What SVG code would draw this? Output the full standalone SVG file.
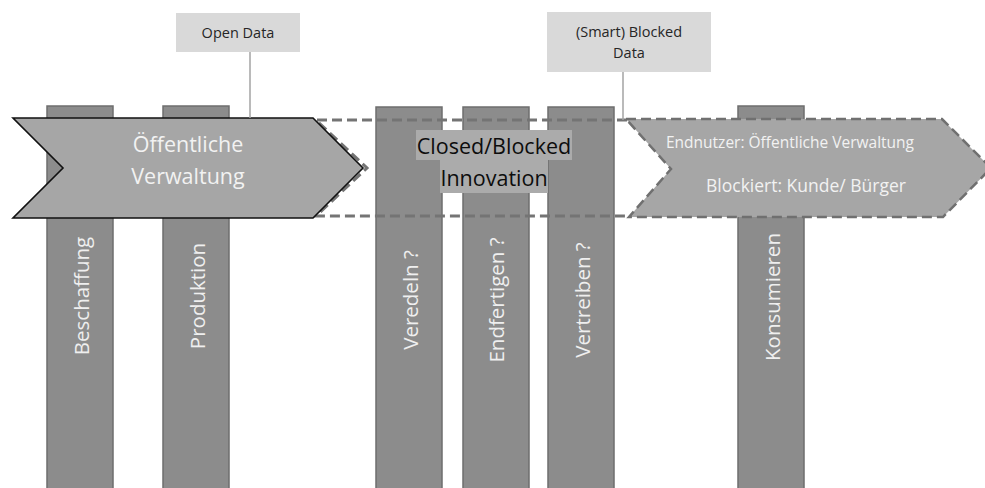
<svg xmlns="http://www.w3.org/2000/svg" width="985" height="488" viewBox="0 0 985 488">
  <style>
    .bar { fill: #8c8c8c; stroke: #6e6e6e; stroke-width: 1.5; }
    .barlabel { font-family: "Open Sans", "Liberation Sans", sans-serif; font-size: 20.5px; fill: #efefef; text-anchor: middle; }
    .chev { fill: #a6a6a6; }
    .dash { fill: none; stroke: #747474; stroke-width: 3; stroke-dasharray: 10 5; }
    .callout { fill: #d9d9d9; }
    .calltext { font-family: "Open Sans", "Liberation Sans", sans-serif; font-size: 14.5px; fill: #262626; text-anchor: middle; }
    .light { font-family: "Open Sans", "Liberation Sans", sans-serif; fill: #f2f2f2; text-anchor: middle; }
    .dark { font-family: "Open Sans", "Liberation Sans", sans-serif; font-size: 21.5px; fill: #0d0d0d; text-anchor: middle; }
    .lead { stroke: #a3a3a3; stroke-width: 1.5; fill: none; }
  </style>
  <rect width="985" height="488" fill="#ffffff"/>

  <!-- value chain steps (vertical bars) -->
  <g id="beschaffung">
    <rect class="bar" x="47" y="106" width="66" height="390"/>
    <text class="barlabel" transform="rotate(-90)" x="-296" y="89">Beschaffung</text>
  </g>
  <g id="produktion">
    <rect class="bar" x="163" y="106" width="66" height="390"/>
    <text class="barlabel" transform="rotate(-90)" x="-296" y="205">Produktion</text>
  </g>
  <g id="veredeln">
    <rect class="bar" x="376" y="107" width="66" height="390"/>
    <text class="barlabel" transform="rotate(-90)" x="-300" y="418">Veredeln ?</text>
  </g>
  <g id="endfertigen">
    <rect class="bar" x="463" y="107" width="66" height="390"/>
    <text class="barlabel" transform="rotate(-90)" x="-300" y="504">Endfertigen ?</text>
  </g>
  <g id="vertreiben">
    <rect class="bar" x="548" y="107" width="66" height="390"/>
    <text class="barlabel" transform="rotate(-90)" x="-300" y="590">Vertreiben ?</text>
  </g>
  <g id="konsumieren">
    <rect class="bar" x="738" y="106" width="66" height="390"/>
    <text class="barlabel" transform="rotate(-90)" x="-297" y="780">Konsumieren</text>
  </g>

  <!-- blocked innovation zone (dashed outline) -->
  <g id="closed-blocked-innovation">
    <path class="dash" d="M627,120 H316 L367,168 L316,216 H632"/>
    <rect x="416" y="130" width="156" height="30" fill="#ababab"/>
    <rect x="440" y="160" width="108" height="33" fill="#ababab"/>
    <text class="dark" x="494" y="154">Closed/Blocked</text>
    <text class="dark" x="494" y="186">Innovation</text>
  </g>

  <!-- public administration chevron -->
  <g id="oeffentliche-verwaltung">
    <path class="chev" d="M13,118 H313 L363,168 L313,218 H13 L63,168 Z" stroke="#111111" stroke-width="1.6" stroke-linejoin="miter"/>
    <text class="light" x="188" y="152" font-size="21.5">Öffentliche</text>
    <text class="light" x="188" y="184" font-size="21.5">Verwaltung</text>
  </g>

  <!-- end user chevron -->
  <g id="endnutzer">
    <path class="chev" d="M626,119 H942 L991,168 L943,217 H629 L671,169 Z" stroke="#707070" stroke-width="2.5" stroke-dasharray="10 5"/>
    <text class="light" x="790" y="148" font-size="15.5">Endnutzer: Öffentliche Verwaltung</text>
    <text class="light" x="806" y="192" font-size="17.5">Blockiert: Kunde/ Bürger</text>
  </g>

  <!-- callouts -->
  <g id="open-data">
    <rect class="callout" x="176" y="13" width="124" height="39"/>
    <text class="calltext" x="238" y="38">Open Data</text>
  </g>
  <g id="smart-blocked-data">
    <rect class="callout" x="547" y="12" width="164" height="60"/>
    <text class="calltext" x="629" y="37">(Smart) Blocked</text>
    <text class="calltext" x="629" y="58">Data</text>
  </g>

  <!-- callout leader lines -->
  <g id="connectors">
    <path class="lead" d="M250,52 V118"/>
    <path class="lead" d="M623,72 V120"/>
  </g>
</svg>
